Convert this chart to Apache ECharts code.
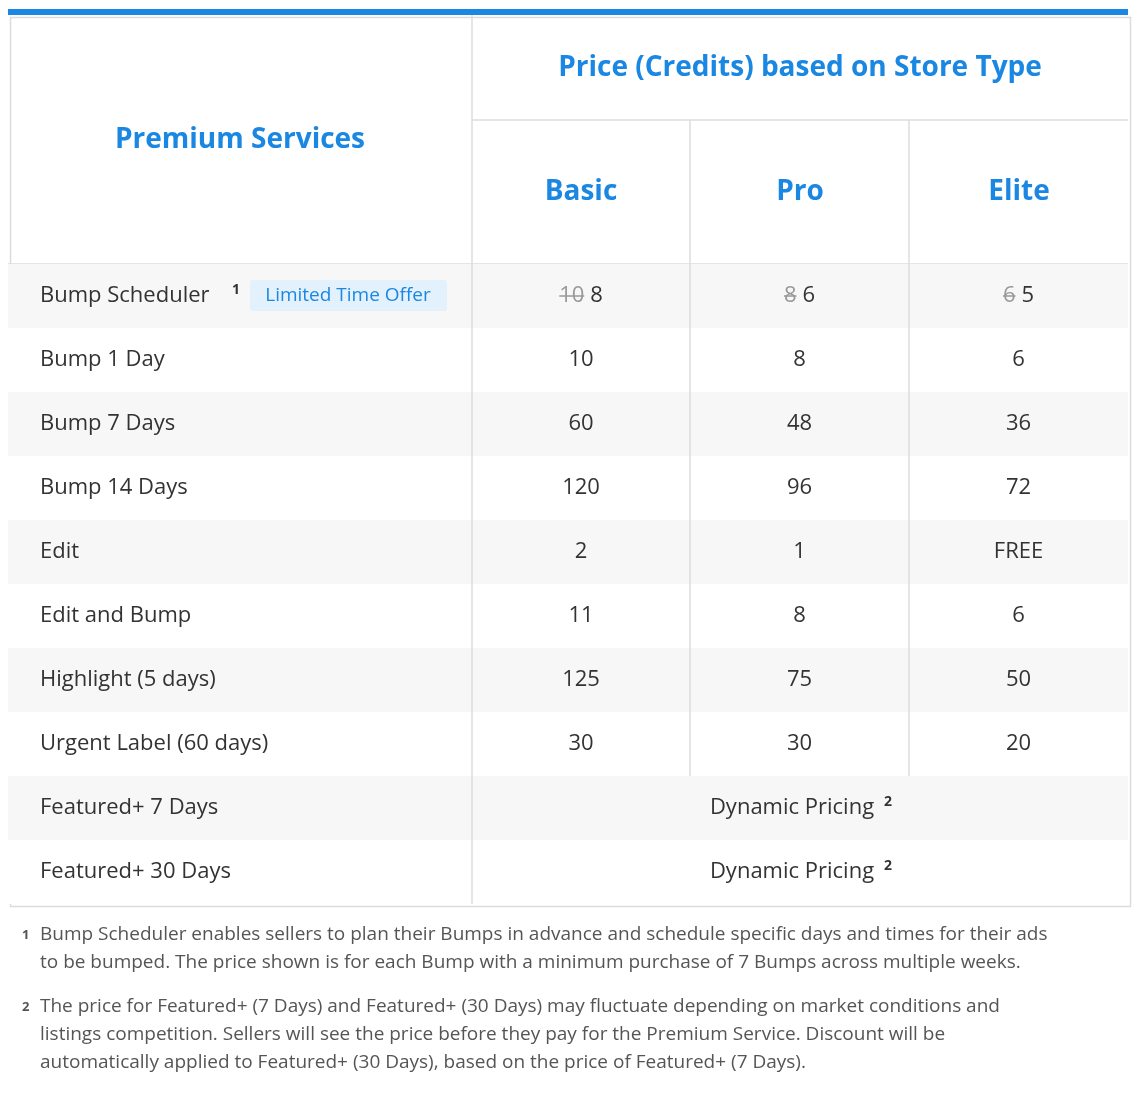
<!DOCTYPE html>
<html>
<head>
<meta charset="utf-8">
<script src="https://cdn.jsdelivr.net/npm/echarts@6/dist/echarts.min.js"></script>
<style>
html,body{margin:0;padding:0;background:#fff;}
#chart{width:1136px;height:1100px;}
</style>
</head>
<body>
<div id="chart"></div>
<script>
var services=['Bump Scheduler','Bump 1 Day','Bump 7 Days','Bump 14 Days','Edit','Edit and Bump','Highlight (5 days)','Urgent Label (60 days)','Featured+ 7 Days','Featured+ 30 Days'];
var basic=['8','10','60','120','2','11','125','30','',''];
var pro=['6','8','48','96','1','8','75','30','',''];
var elite=['5','6','36','72','FREE','6','50','20','',''];
var oldPrices=['10','8','6'];   // struck-through prices of Bump Scheduler
var storeTypes=['Basic','Pro','Elite'];
var dynamicText='Dynamic Pricing';

var BLUE='#1a87e2', TXT='#333', LINE='#dcdcdc', FONT='"Open Sans","Noto Sans",sans-serif';
var chart=echarts.init(document.getElementById('chart'));

function renderRow(params,api){
	var i=api.value(0);
	var cs=params.coordSys;
	var top=api.coord([0,i])[1]-32;
	var x0=cs.x, w=cs.width;
	var edges=[x0, x0+464, x0+682, x0+901, x0+w];
	var kids=[];
	kids.push({type:'rect',shape:{x:x0,y:top,width:w,height:64},style:{fill:i%2==0?'#f7f7f7':'#fff'}});
	var ty=top+32;
	var font='22px '+FONT;
	kids.push({type:'text',style:{text:services[i],x:x0+32,y:ty,font:font,fill:TXT,verticalAlign:'middle'}});
	if(i==0){
		kids.push({type:'text',style:{text:'1',x:x0+224,y:ty-6,font:'bold 14px '+FONT,fill:TXT,verticalAlign:'middle'}});
		kids.push({type:'rect',shape:{x:x0+242,y:ty-16,width:197,height:31,r:3},style:{fill:'#e3f1fc'}});
		kids.push({type:'text',style:{text:'Limited Time Offer',x:x0+340,y:ty,font:'19px '+FONT,fill:BLUE,align:'center',verticalAlign:'middle'}});
	}
	var cols=[basic,pro,elite];
	if(i<8){
		for(var c=0;c<3;c++){
			var cx=(edges[c+1]+edges[c+2])/2;
			if(i==0){
				var o=oldPrices[c], n=cols[c][i];
				var W=o.length*12.5+6+n.length*12.5, s=cx-W/2;
				kids.push({type:'text',style:{text:o,x:s,y:ty,font:font,fill:'#999',verticalAlign:'middle'}});
				kids.push({type:'line',shape:{x1:s,y1:ty,x2:s+o.length*12.5,y2:ty},style:{stroke:'#999',lineWidth:1.5}});
				kids.push({type:'text',style:{text:n,x:s+o.length*12.5+6,y:ty,font:font,fill:TXT,verticalAlign:'middle'}});
			}else{
				kids.push({type:'text',style:{text:cols[c][i],x:cx,y:ty,font:font,fill:TXT,align:'center',verticalAlign:'middle'}});
			}
		}
		kids.push({type:'line',shape:{x1:edges[2],y1:top,x2:edges[2],y2:top+64},style:{stroke:LINE,lineWidth:1.5}});
		kids.push({type:'line',shape:{x1:edges[3],y1:top,x2:edges[3],y2:top+64},style:{stroke:LINE,lineWidth:1.5}});
	}else{
		var cx2=(edges[1]+edges[4])/2;
		kids.push({type:'text',style:{text:dynamicText,x:cx2-8,y:ty,font:font,fill:TXT,align:'center',verticalAlign:'middle'}});
		kids.push({type:'text',style:{text:'2',x:cx2+84,y:ty-6,font:'bold 14px '+FONT,fill:TXT,verticalAlign:'middle'}});
	}
	kids.push({type:'line',shape:{x1:edges[1],y1:top,x2:edges[1],y2:top+64},style:{stroke:LINE,lineWidth:1.5}});
	return {type:'group',children:kids};
}

var headerGraphics=[
	{type:'rect',left:8,top:9,shape:{width:1120,height:6},style:{fill:BLUE}},
	{type:'rect',left:8,top:15,shape:{width:1120,height:889},style:{fill:'none',stroke:LINE,lineWidth:1.5}},
	{type:'line',shape:{x1:472,y1:15,x2:472,y2:264},style:{stroke:LINE,lineWidth:1.5}},
	{type:'line',shape:{x1:472,y1:120,x2:1128,y2:120},style:{stroke:LINE,lineWidth:1.5}},
	{type:'line',shape:{x1:690,y1:120,x2:690,y2:264},style:{stroke:LINE,lineWidth:1.5}},
	{type:'line',shape:{x1:909,y1:120,x2:909,y2:264},style:{stroke:LINE,lineWidth:1.5}},
	{type:'line',shape:{x1:8,y1:264,x2:1128,y2:264},style:{stroke:LINE,lineWidth:1.5}},
	{type:'text',x:240,y:140,style:{text:'Premium Services',font:'bold 28px '+FONT,fill:BLUE,align:'center',verticalAlign:'middle'}},
	{type:'text',x:800,y:68,style:{text:'Price (Credits) based on Store Type',font:'bold 28px '+FONT,fill:BLUE,align:'center',verticalAlign:'middle'}}
];
var colCenters=[581,800,1019];
storeTypes.forEach(function(s,k){
	headerGraphics.push({type:'text',x:colCenters[k],y:192,style:{text:s,font:'bold 28px '+FONT,fill:BLUE,align:'center',verticalAlign:'middle'}});
});
var notes=[
	['1',935,'Bump Scheduler enables sellers to plan their Bumps in advance and schedule specific days and times for their ads\nto be bumped. The price shown is for each Bump with a minimum purchase of 7 Bumps across multiple weeks.'],
	['2',1007,'The price for Featured+ (7 Days) and Featured+ (30 Days) may fluctuate depending on market conditions and\nlistings competition. Sellers will see the price before they pay for the Premium Service. Discount will be\nautomatically applied to Featured+ (30 Days), based on the price of Featured+ (7 Days).']
];
notes.forEach(function(n){
	headerGraphics.push({type:'text',x:22,y:n[1]-6,style:{text:n[0],font:'bold 13px '+FONT,fill:'#555'}});
	headerGraphics.push({type:'text',x:40,y:n[1]-14,style:{text:n[2],font:'19px '+FONT,fill:'#555',lineHeight:28}});
});

chart.setOption({
	animation:false,
	grid:{left:8,right:8,top:264,height:640},
	xAxis:{type:'value',min:0,max:1,show:false},
	yAxis:{type:'category',inverse:true,data:services,show:false},
	series:[{
		type:'custom',
		renderItem:renderRow,
		data:services.map(function(s,i){return [i];}),
		encode:{y:0},
		z:1
	}],
	graphic:headerGraphics
});
</script>
</body>
</html>
